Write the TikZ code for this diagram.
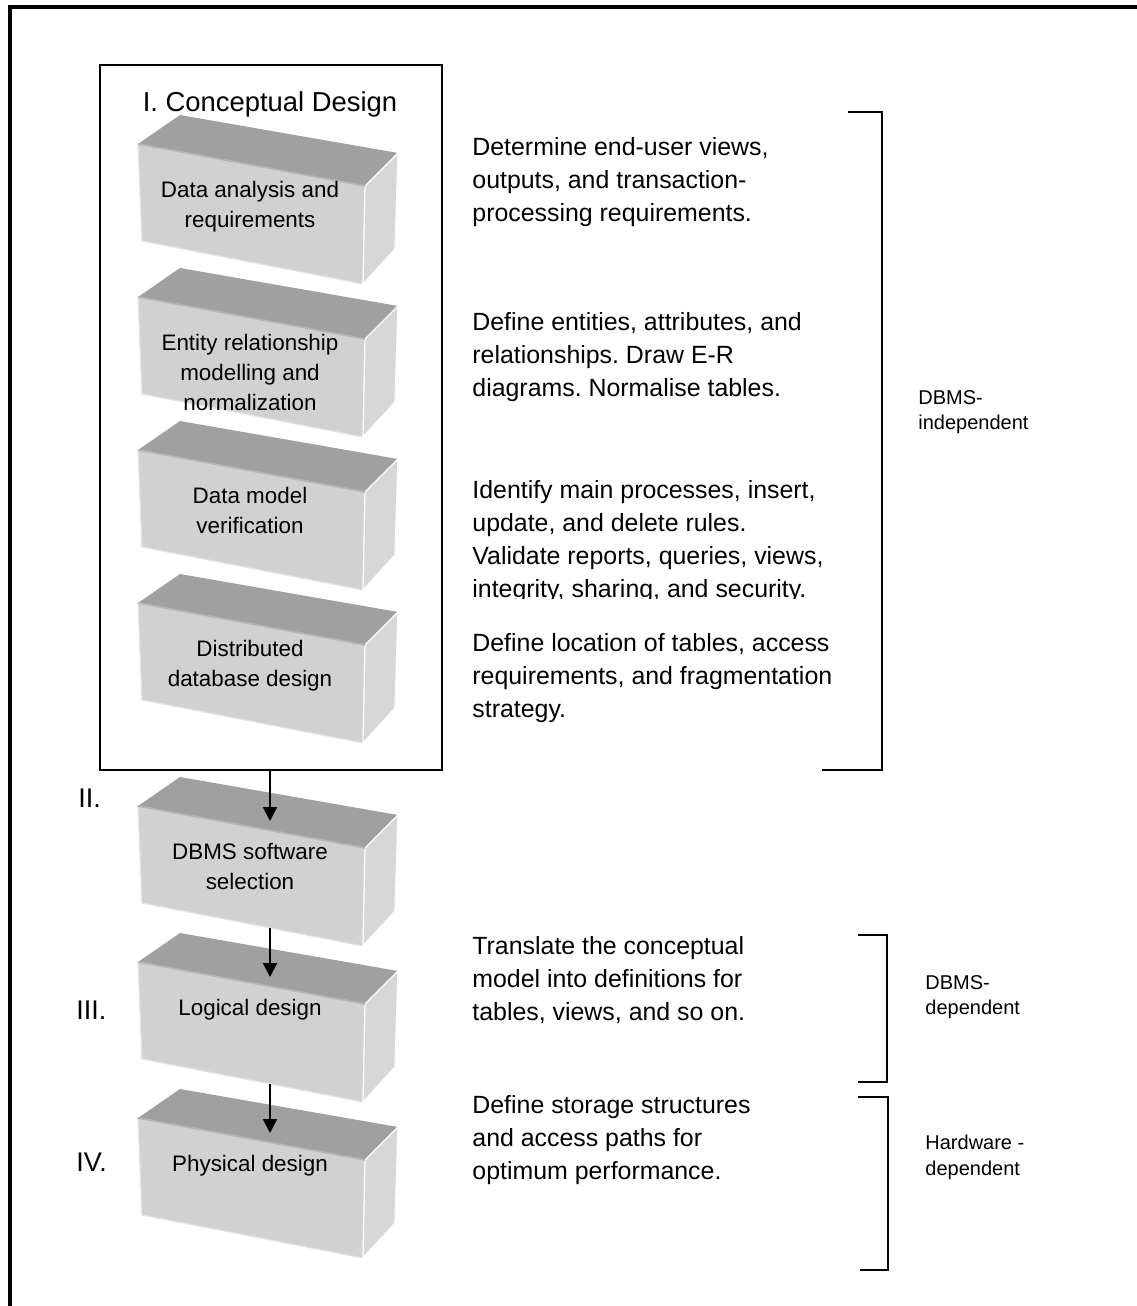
\documentclass[tikz,border=0pt]{standalone}
\usepackage{fontspec}
\setmainfont[Ligatures=NoCommon]{Liberation Sans}
\usetikzlibrary{arrows.meta, positioning}
\frenchspacing
\definecolor{topgray}{HTML}{A0A0A0}
\definecolor{frontgray}{HTML}{D1D1D1}
\definecolor{sidegray}{HTML}{D7D7D7}
\definecolor{edgegray}{HTML}{B4B4B4}
\definecolor{rimgray}{HTML}{E4E4E4}

\newcommand{\dbbox}[4]{%
  \begin{scope}[shift={(#2,#3)}]
    \fill[topgray] (0,0) -- (218,38) -- (185,71) -- (-42,29) -- cycle;
    \filldraw[fill=frontgray, draw=rimgray, line width=0.6pt]
      (-42,29) -- (185,71) -- (183,169) -- (-38,126) -- cycle;
    \filldraw[fill=sidegray, draw=white, line width=0.6pt]
      (185,71) -- (218,38) -- (215,134) -- (183,169) -- cycle;
    \draw[edgegray, line width=0.8pt] (-42,29) -- (185,71);
    \coordinate (#1-top) at (90,44);
    \coordinate (#1-bot) at (90,151);
    \node[boxtext] (#1) at (70,66) {#4};
  \end{scope}}

\begin{document}
\begin{tikzpicture}[
  x=0.5pt, y=-0.5pt,
  boxtext/.style={anchor=north, inner sep=0pt, align=center,
    font=\fontsize{11.2}{15}\selectfont},
  desc/.style={anchor=north west, inner sep=0pt, align=left,
    font=\fontsize{12.45}{16.5}\selectfont},
  phase/.style={anchor=base west, inner sep=0pt,
    font=\fontsize{13.5}{16}\selectfont},
  side/.style={anchor=north west, inner sep=0pt, align=left,
    font=\fontsize{10}{12.75}\selectfont},
  bracket/.style={line width=1pt},
  arr/.style={-{Triangle[length=7pt, width=7pt]}, line width=1pt}
]
  \useasboundingbox (0,0) rectangle (1136,1306);
  \draw[line width=1.6pt, line join=miter] (10,1320) -- (10,7) -- (1150,7);

  \draw[line width=0.75pt] (100,65) rectangle (442,770);
  \coordinate (concept-bot) at (270,770);
  \node[anchor=base, inner sep=0pt, font=\fontsize{13.7}{16}\selectfont]
    (concept-title) at (270,111) {I. Conceptual Design};

  \dbbox{analysis}{180}{115}{Data analysis and\\requirements}
  \dbbox{er}{180}{268}{Entity relationship\\modelling and\\normalization}
  \dbbox{verify}{180}{421}{Data model\\verification}
  \dbbox{distrib}{180}{574}{Distributed\\database design}
  \dbbox{dbms}{180}{777}{DBMS software\\selection}
  \dbbox{logical}{180}{933}{Logical design}
  \dbbox{physical}{180}{1089}{Physical design}

  \draw[arr] (concept-bot) -- (dbms-top);
  \draw[arr] (dbms-bot) -- (logical-top);
  \draw[arr] (logical-bot) -- (physical-top);

  \node[phase] (ph2) at (78,807) {II.};
  \node[phase] (ph3) at (76,1019) {III.};
  \node[phase] (ph4) at (76,1171) {IV.};

  \node[desc] (d-analysis) at (472,137) {Determine end-user views,\\outputs, and transaction-\\processing requirements.};
  \node[desc] (d-er) at (472,312) {Define entities, attributes, and\\relationships. Draw E-R\\diagrams. Normalise tables.};
  \begin{scope}
    \clip (460,470) rectangle (860,598);
    \node[desc] (d-verify) at (472,480) {Identify main processes, insert,\\update, and delete rules.\\Validate reports, queries, views,\\integrity, sharing, and security.};
  \end{scope}
  \node[desc] (d-distrib) at (472,633) {Define location of tables, access\\requirements, and fragmentation\\strategy.};
  \node[desc] (d-logical) at (472,936) {Translate the conceptual\\model into definitions for\\tables, views, and so on.};
  \node[desc] (d-physical) at (472,1095) {Define storage structures\\and access paths for\\optimum performance.};

  \draw[bracket] (848,112) -| (882,770) -- (822,770);
  \draw[bracket] (858,935) -| (887,1082) -- (858,1082);
  \draw[bracket] (858,1097) -| (888,1270) -- (860,1270);
  \coordinate (b1) at (882,390);
  \coordinate (b2) at (887,975);
  \coordinate (b3) at (888,1135);
  \node[side, right=18pt of b1, anchor=north west] (indep) {DBMS-\\independent};
  \node[side, right=19pt of b2, anchor=north west] (dep) {DBMS-\\dependent};
  \node[side, right=18.5pt of b3, anchor=north west] (hwdep) {Hardware -\\dependent};
\end{tikzpicture}
\end{document}
